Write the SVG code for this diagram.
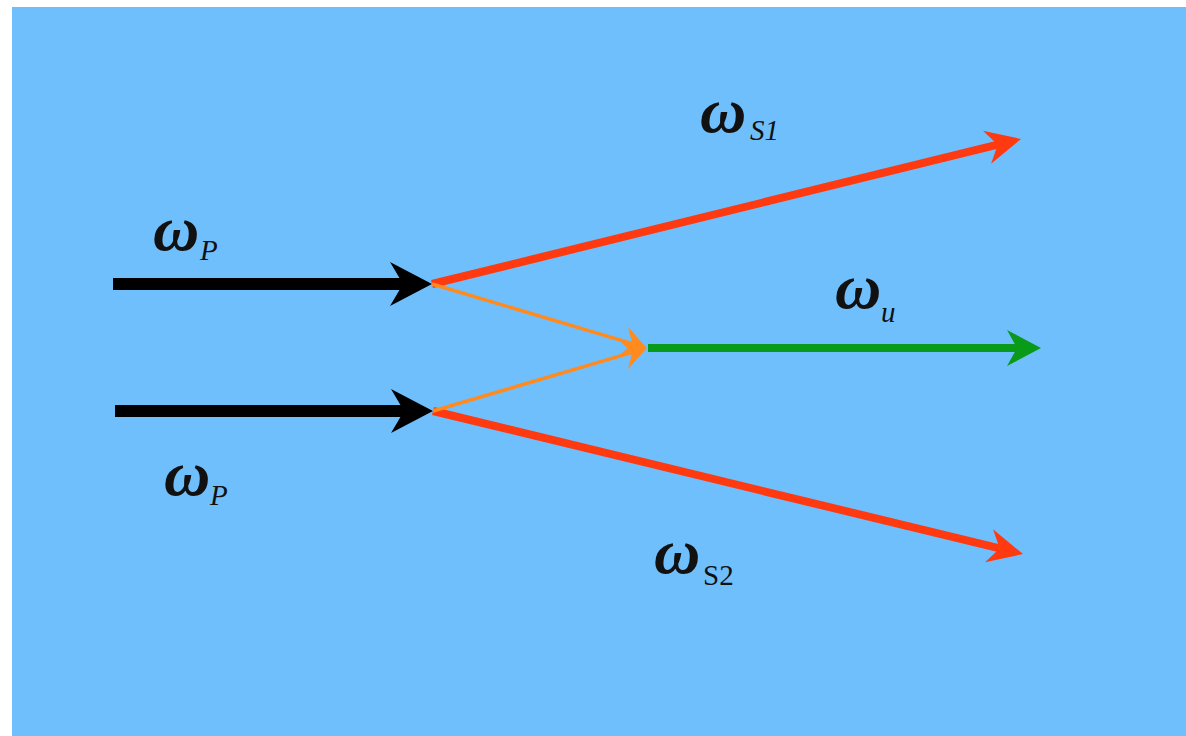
<svg xmlns="http://www.w3.org/2000/svg" width="1186" height="736" viewBox="0 0 1186 736">
<style>
.w{font-family:"Liberation Serif","Times New Roman",serif;font-style:italic;fill:#111;font-size:64px;font-weight:bold;}
.sub{font-size:29px;font-weight:normal;}
.up{font-style:normal;}
.blk{stroke:#000;stroke-width:12;fill:none;}
.red{stroke:#FF3A10;stroke-width:8;fill:none;}
.org{stroke:#FF8A1E;stroke-width:3.5;fill:none;}
.grn{stroke:#0A9A1A;stroke-width:8;fill:none;}
</style>
<defs>
<marker id="hBlk" markerUnits="userSpaceOnUse" orient="auto" refX="0" refY="0" markerWidth="80" markerHeight="80" viewBox="-40 -40 80 80" overflow="visible"><path d="M29,0 L-13,-22 L0,0 L-13,22 Z" fill="#000"/></marker>
<marker id="hRed" markerUnits="userSpaceOnUse" orient="auto" refX="0" refY="0" markerWidth="80" markerHeight="80" viewBox="-40 -40 80 80" overflow="visible"><path d="M24,0 L-11,-17 L0,0 L-11,17 Z" fill="#FF3A10"/></marker>
<marker id="hOrg" markerUnits="userSpaceOnUse" orient="auto" refX="0" refY="0" markerWidth="80" markerHeight="80" viewBox="-40 -40 80 80" overflow="visible"><path d="M8,0 L-16,-15 L-7,0 L-16,15 Z" fill="#FF8A1E"/></marker>
<marker id="hGrn" markerUnits="userSpaceOnUse" orient="auto" refX="0" refY="0" markerWidth="80" markerHeight="80" viewBox="-40 -40 80 80" overflow="visible"><path d="M24,0 L-10,-18 L0,0 L-10,18 Z" fill="#0A9A1A"/></marker>
</defs>
<rect x="0" y="0" width="1186" height="736" fill="#fff"/>
<rect x="12" y="7" width="1174" height="729" fill="#70BFFD"/>
<g id="connectors">
<line class="blk" x1="113" y1="284" x2="403" y2="284" marker-end="url(#hBlk)"/>
<line class="blk" x1="115" y1="411" x2="404" y2="411" marker-end="url(#hBlk)"/>
<line class="red" x1="432" y1="284" x2="997.7" y2="144.7" marker-end="url(#hRed)"/>
<line class="red" x1="433" y1="411" x2="999.7" y2="548.4" marker-end="url(#hRed)"/>
<line class="org" x1="432" y1="284" x2="639" y2="345.6" marker-end="url(#hOrg)"/>
<line class="org" x1="433" y1="411" x2="639" y2="350.4" marker-end="url(#hOrg)"/>
<line class="grn" x1="648" y1="348" x2="1017" y2="348" marker-end="url(#hGrn)"/>
</g>
<g id="label-wp1"><text class="w" x="153" y="250">ω<tspan class="sub" x="200" y="260">P</tspan></text></g>
<g id="label-wp2"><text class="w" x="164" y="495">ω<tspan class="sub" x="210" y="505">P</tspan></text></g>
<g id="label-ws1"><text class="w" x="700" y="132">ω<tspan class="sub" x="750" y="140">S1</tspan></text></g>
<g id="label-wu"><text class="w" x="835" y="308">ω<tspan class="sub" x="881" y="322">u</tspan></text></g>
<g id="label-ws2"><text class="w" x="654" y="573">ω<tspan class="sub up" x="703" y="585">S2</tspan></text></g>
</svg>
